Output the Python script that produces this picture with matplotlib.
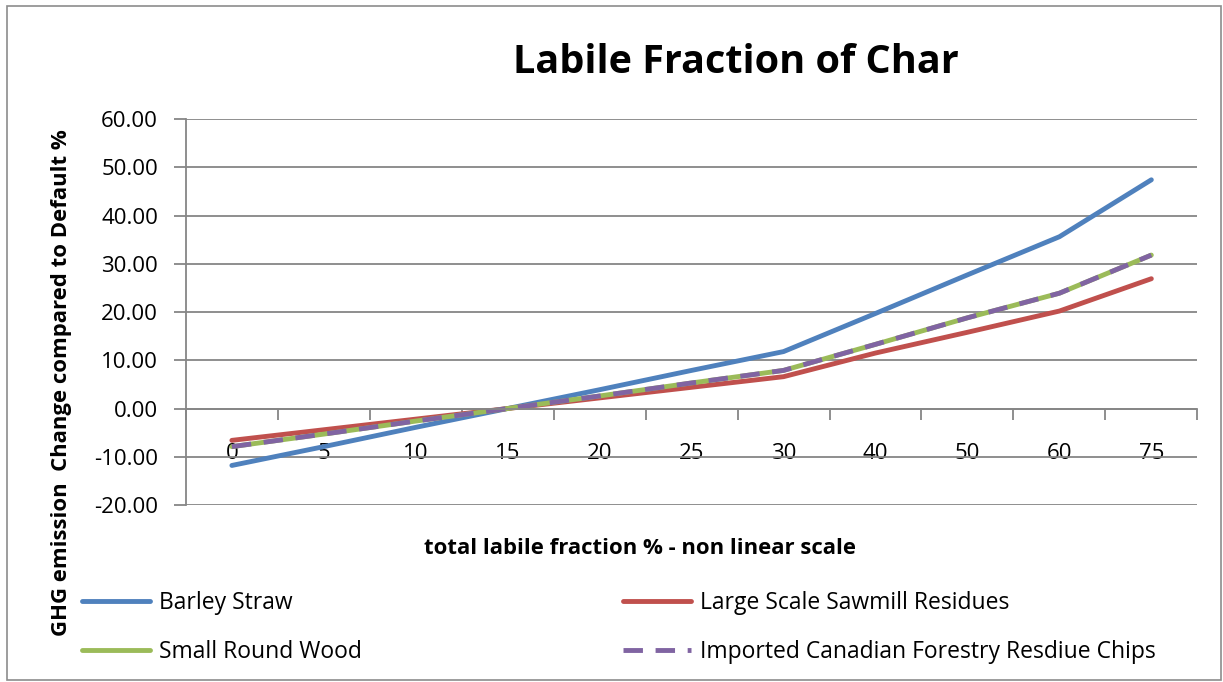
import numpy as np
import matplotlib
matplotlib.use("Agg")
from matplotlib import pyplot as plt
from matplotlib.patches import Rectangle

plt.rcParams['font.family'] = ['Open Sans', 'DejaVu Sans']

labile = ['0', '5', '10', '15', '20', '25', '30', '40', '50', '60', '75']
barley = [-11.8, -7.9, -3.9, 0.0, 3.9, 7.9, 11.8, 19.7, 27.7, 35.6, 47.4]
sawmill = [-6.6, -4.4, -2.2, 0.0, 2.2, 4.4, 6.6, 11.5, 15.8, 20.2, 26.9]
roundwood = [-7.9, -5.3, -2.6, 0.0, 2.6, 5.3, 7.9, 13.3, 18.8, 23.9, 31.8]
canadian = [-7.9, -5.3, -2.6, 0.0, 2.6, 5.3, 7.9, 13.3, 18.8, 23.9, 31.8]

grid_c = '#868686'
fig = plt.figure(figsize=(12.23, 6.82), dpi=100)
fig.patches.append(Rectangle((0.006, 0.003), 0.992, 0.988, transform=fig.transFigure,
                             fill=False, edgecolor='#8c8c8c', lw=1.2))

ax = fig.add_axes([0.152, 0.2595, 0.827, 0.566])
x = np.arange(len(labile))
ax.plot(x, barley, color='#4F81BD', lw=3.5, label='Barley Straw', solid_capstyle='round')
ax.plot(x, sawmill, color='#C0504D', lw=3.5, label='Large Scale Sawmill Residues', solid_capstyle='round')
ax.plot(x, roundwood, color='#9BBB59', lw=3.5, label='Small Round Wood', solid_capstyle='round')
ax.plot(x, canadian, color='#8064A2', lw=3.5, ls=(0, (4, 2.6)), label='Imported Canadian Forestry Resdiue Chips')

ax.set_xlim(-0.5, len(labile) - 0.5)
ax.set_ylim(-20, 60)
ax.set_yticks(np.arange(-20, 61, 10))
ax.set_yticklabels(['%.2f' % v for v in np.arange(-20, 61, 10)], fontsize=16)
ax.yaxis.grid(True, color=grid_c, lw=1.3)
ax.set_axisbelow(True)
ax.tick_params(axis='y', length=9, color=grid_c, width=1.3, pad=11)

for s in ['top', 'right']:
    ax.spines[s].set_visible(False)
ax.spines['left'].set_color(grid_c)
ax.spines['left'].set_linewidth(1.3)
ax.spines['bottom'].set_position(('data', 0))
ax.spines['bottom'].set_color(grid_c)
ax.spines['bottom'].set_linewidth(1.3)

ax.set_xticks(x)
ax.set_xticklabels(labile, fontsize=16)
ax.set_xticks(np.arange(-0.5, len(labile) + 0.5, 1), minor=True)
ax.tick_params(axis='x', which='major', length=0, pad=25)
ax.tick_params(axis='x', which='minor', length=8, color=grid_c, width=1.3)

fig.text(0.602, 0.909, 'Labile Fraction of Char', fontsize=28.5, fontweight='bold',
         ha='center', va='center')
fig.text(0.523, 0.196, 'total labile fraction % - non linear scale', fontsize=15.9,
         fontweight='bold', ha='center', va='center')
fig.text(0.05, 0.439, 'GHG emission  Change compared to Default %', fontsize=15.9,
         fontweight='bold', ha='center', va='center', rotation=90)

h, l = ax.get_legend_handles_labels()
order = [0, 2, 1, 3]
fig.legend([h[i] for i in order], [l[i] for i in order], ncol=2, frameon=False,
           fontsize=16.5, loc='upper left', bbox_to_anchor=(0.050, 0.164),
           handlelength=2.97, columnspacing=11.4, labelspacing=1.09, handletextpad=0.4)

fig.savefig('out.png', dpi=100)
